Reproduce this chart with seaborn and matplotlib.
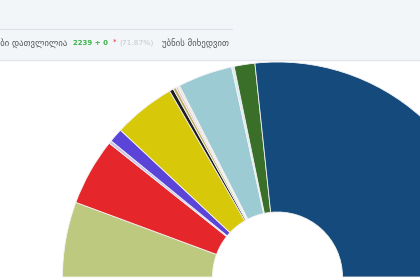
import matplotlib
matplotlib.use("Agg")
import matplotlib.pyplot as plt
from matplotlib.patches import Rectangle
import seaborn as sns

sns.set_theme(style="white")
plt.rcParams['font.family'] = ['DejaVu Sans']

# shares of the vote (%), in drawing order from the left
parties = ["p1", "p2", "p3", "p4", "p5", "p6", "p7", "p8", "p9", "p10", "p11", "p12", "p13"]
shares = [11.28, 10.11, 0.44, 2.11, 9.33, 0.61, 0.44, 0.28, 0.33, 8.22, 0.39, 3.11, 53.35]
colors = ["#bdc97e", "#e5262a", "#cbc3ea", "#5b45d9", "#d8c80a", "#1f1f1f",
          "#b8b060", "#e8b4c8", "#f3e6dc", "#9ccbd3", "#d6edf1", "#3a6f2a", "#154a7d"]

counted_label = "უბნები დათვლილია "
counted_value = "2239 + 0"
counted_pct = "(71.87%)"
counted_tail = "უბნის მიხედვით"

W, H = 420, 280
fig = plt.figure(figsize=(W / 100, H / 100), dpi=100)
ax = fig.add_axes([0, 0, 1, 1])
ax.set_xlim(0, W)
ax.set_ylim(0, H)
ax.axis("off")

# header band
ax.add_patch(Rectangle((0, H - 60), W, 60, facecolor="#f3f6f9", edgecolor="none", zorder=5))
ax.plot([0, W], [H - 60, H - 60], color="#e3e7eb", lw=1, zorder=6)
ax.plot([0, 232], [H - 29, H - 29], color="#dde2e7", lw=0.8, zorder=6)

ty = H - 43
fs = 6.3
fsn = 5.4
ax.text(70, ty, counted_label, ha="right", va="center", fontsize=fs, color="#555555", zorder=7)
ax.text(73, ty, counted_value, ha="left", va="center", fontsize=5.0, color="#3cb34a",
        fontweight="bold", zorder=7)
ax.text(113, ty + 1.5, "*", ha="left", va="center", fontsize=fsn, color="#e5262a", zorder=7)
ax.text(119, ty, counted_pct, ha="left", va="center", fontsize=fsn, color="#c4c8cc", zorder=7)
ax.text(162, ty, counted_tail, ha="left", va="center", fontsize=fs, color="#555555", zorder=7)

# half donut
fr = [s / 200.0 for s in shares]
ax.pie(fr, colors=colors, center=(277.5, H - 277), radius=215, startangle=180,
       counterclock=False, normalize=False,
       wedgeprops=dict(width=150, edgecolor="#f4f4f4", linewidth=0.6))
ax.set_xlim(0, W)
ax.set_ylim(0, H)
ax.set_aspect("auto")

fig.savefig("out.png", dpi=100)
